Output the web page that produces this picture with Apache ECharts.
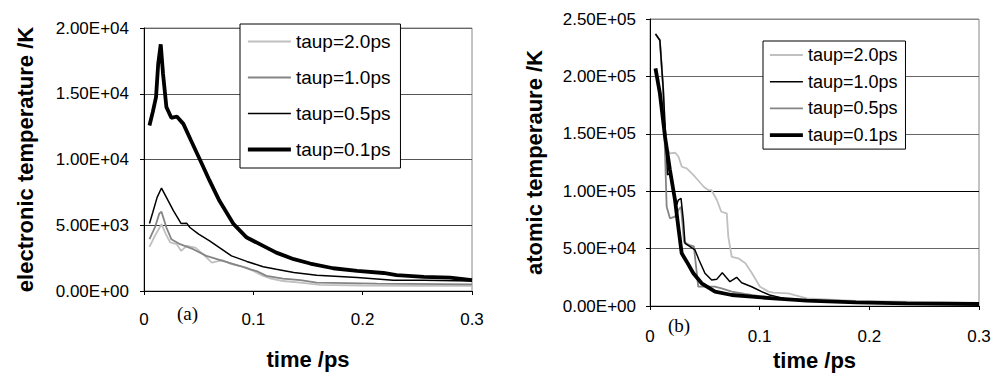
<!DOCTYPE html>
<html>
<head>
<meta charset="utf-8">
<script src="https://cdn.jsdelivr.net/npm/echarts@6/dist/echarts.min.js"></script>
<style>
html,body{margin:0;padding:0;background:#fff;}
#a{position:absolute;left:0;top:0;width:500px;height:374px;}
#b{position:absolute;left:500px;top:0;width:493px;height:374px;}
</style>
</head>
<body>
<div id="a"></div>
<div id="b"></div>
<script>
// ---- data: (a) electronic temperature ----
const xTicks = [0, 0.1, 0.2, 0.3];
const seriesNames = ['taup=2.0ps', 'taup=1.0ps', 'taup=0.5ps', 'taup=0.1ps'];

const elecT20_t = [0.005,0.010,0.016,0.020,0.024,0.030,0.034,0.039,0.047,0.054,0.062,0.072,0.080,0.094,0.109,0.115,0.127,0.143,0.161,0.200,0.250,0.300];
const elecT20_v = [3350,4200,5080,4320,3690,3560,3050,3430,3300,2800,2160,2340,2040,1780,1150,970,760,640,460,420,400,400];

const elecT10_t = [0.005,0.010,0.014,0.016,0.0205,0.025,0.033,0.045,0.057,0.072,0.088,0.097,0.103,0.112,0.127,0.143,0.158,0.213,0.300];
const elecT10_v = [3940,4830,5900,6020,4830,3940,3560,3180,2670,2290,1900,1650,1520,1150,940,820,640,560,510];

const elecT05_t = [0.005,0.008,0.012,0.016,0.0205,0.027,0.034,0.039,0.042,0.050,0.060,0.069,0.080,0.094,0.109,0.121,0.137,0.158,0.195,0.228,0.256,0.300];
const elecT05_v = [5130,5970,7120,7830,7120,6100,5130,5160,4830,4320,3810,3300,2670,2250,1850,1650,1400,1200,1020,820,815,760];

const elecT01_t = [0.005,0.008,0.011,0.013,0.0153,0.0174,0.0205,0.025,0.030,0.036,0.043,0.053,0.060,0.069,0.082,0.094,0.109,0.121,0.137,0.152,0.173,0.195,0.219,0.231,0.256,0.280,0.300];
const elecT01_v = [12580,13600,14740,17290,18760,16520,13980,13170,13270,12710,11440,9660,8390,6860,5080,4065,3430,2920,2420,2090,1730,1530,1370,1200,1070,1015,820];

// ---- data: (b) atomic temperature ----
const atomT20_t = [0.005,0.009,0.012,0.0143,0.018,0.023,0.026,0.029,0.0335,0.041,0.049,0.053,0.056,0.061,0.065,0.070,0.0714,0.0745,0.0805,0.087,0.093,0.1003,0.108,0.1124,0.126,0.143,0.188,0.234,0.300];
const atomT20_v = [237000,231500,190000,138800,133000,133500,130000,121300,119900,112600,103900,101000,101000,92300,82100,80700,60400,42900,41500,37200,28500,16800,12500,11600,11000,6700,4350,3750,2500];

const atomT10_t = [0.005,0.009,0.012,0.0143,0.016,0.018,0.0243,0.0258,0.0283,0.0304,0.0319,0.0365,0.041,0.0447,0.0501,0.0562,0.0608,0.0659,0.0729,0.079,0.0836,0.0927,0.1018,0.109,0.125,0.150,0.200,0.300];
const atomT10_v = [237000,231500,190000,147500,114100,115600,88000,92300,93800,74900,54600,51700,48800,40100,28500,22600,23200,29000,21200,25000,20300,16800,12500,9580,6000,4500,3000,2000];

const atomT05_t = [0.005,0.009,0.012,0.0137,0.0152,0.0182,0.0228,0.0258,0.0283,0.031,0.036,0.040,0.044,0.050,0.059,0.0653,0.0745,0.0866,0.100,0.120,0.150,0.200,0.300];
const atomT05_v = [237000,231500,190000,133000,86500,76400,77800,83600,86500,56000,53000,52000,16800,16800,16800,15400,12500,10500,8500,6500,4500,3000,2000];

const atomT01_t = [0.005,0.009,0.0137,0.0182,0.0228,0.0258,0.0289,0.0335,0.0395,0.0471,0.0593,0.0745,0.0927,0.1124,0.143,0.188,0.234,0.300];
const atomT01_v = [207000,185300,147500,118500,92300,69100,45900,38600,28500,19800,12500,9580,8100,6700,4600,3200,2350,1740];

// ---- helpers ----
const pairs = (t, v) => t.map((x, i) => [x, v[i]]);
const fmtE = v => {
  if (v === 0) return '0.00E+00';
  let [m, e] = v.toExponential(2).split('e');
  const s = e[0] === '-' ? '-' : '+';
  e = e.replace(/[+-]/, '');
  return m + 'E' + s + e.padStart(2, '0');
};
const fmtX = v => (v === 0 ? '0' : String(+v.toFixed(1)));
const FONT = "'Liberation Sans', Arial, sans-serif";
const LIGHT = '#c0c0c0', MID = '#858585', BLACK = '#000';
const THIN = 1.5, GREYW = 1.8, THICK = 3.8;

function xAxisCfg(gap, labelMargin) {
  return {
    type: 'value', min: xTicks[0], max: xTicks[xTicks.length - 1], interval: 0.1,
    name: 'time /ps', nameLocation: 'middle', nameGap: gap,
    nameTextStyle: { fontFamily: FONT, fontWeight: 'bold', fontSize: 22, color: '#000' },
    axisLine: { lineStyle: { color: '#000', width: 1 } },
    axisTick: { show: true, length: 4, lineStyle: { color: '#000' } },
    axisLabel: { formatter: fmtX, fontFamily: FONT, fontSize: 17, color: '#000', margin: labelMargin },
    splitLine: { show: false }
  };
}
function yAxisCfg(name, max, interval, gap, gridColors, labelMargin) {
  return {
    type: 'value', min: 0, max: max, interval: interval,
    name: name, nameLocation: 'middle', nameGap: gap,
    nameTextStyle: { fontFamily: FONT, fontWeight: 'bold', fontSize: 22, color: '#000' },
    axisLine: { show: true, lineStyle: { color: '#000', width: 1 } },
    axisTick: { show: true, length: 4, lineStyle: { color: '#000' } },
    axisLabel: { formatter: fmtE, fontFamily: FONT, fontSize: 17, color: '#000', margin: labelMargin },
    splitLine: { show: true, lineStyle: { color: gridColors, width: 1 } }
  };
}
function line(name, data, color, width, z) {
  return { name: name, type: 'line', data: data, symbol: 'none', showSymbol: false,
    lineStyle: { color: color, width: width }, itemStyle: { color: color }, z: z, silent: true };
}
function legendCfg(left, top, itemWidth, itemGap, padding, fontSize, colors, widths) {
  return {
    orient: 'vertical', left: left, top: top,
    data: seriesNames.map((n, i) => ({ name: n, lineStyle: { color: colors[i], width: widths[i] } })),
    itemWidth: itemWidth, itemHeight: 18, itemGap: itemGap, padding: padding,
    backgroundColor: '#fff', borderColor: '#000', borderWidth: 1, borderRadius: 0,
    itemStyle: { opacity: 0 },
    textStyle: { fontFamily: FONT, fontSize: fontSize, color: '#000', lineHeight: 18 },
    selectedMode: false
  };
}

// ---- chart (a) ----
const colorsA = [LIGHT, MID, BLACK, BLACK], widthsA = [GREYW, GREYW, THIN, THICK];
const chartA = echarts.init(document.getElementById('a'), null, { renderer: 'svg' });
chartA.setOption({
  animation: false,
  backgroundColor: '#fff',
  grid: { left: 144, right: 28, top: 28, bottom: 83, show: true, borderColor: '#888', borderWidth: 1,
    containLabel: false, outerBoundsMode: 'none' },
  xAxis: xAxisCfg(57, 20),
  yAxis: yAxisCfg('electronic temperature /K', 20000, 5000, 108, ['#555', '#333', '#555', '#555', '#666'], 15),
  legend: legendCfg(240, 24, 43, 17, [8, 10, 9, 6], 19, colorsA, widthsA),
  graphic: [{ type: 'text', left: 177, top: 304,
    style: { text: '(a)', font: "19px 'Liberation Serif', 'Times New Roman', serif", fill: '#000' } }],
  series: [
    line(seriesNames[0], pairs(elecT20_t, elecT20_v), colorsA[0], widthsA[0], 2),
    line(seriesNames[1], pairs(elecT10_t, elecT10_v), colorsA[1], widthsA[1], 3),
    line(seriesNames[2], pairs(elecT05_t, elecT05_v), colorsA[2], widthsA[2], 4),
    line(seriesNames[3], pairs(elecT01_t, elecT01_v), colorsA[3], widthsA[3], 5)
  ]
});

// ---- chart (b) ----
const colorsB = [LIGHT, BLACK, MID, BLACK], widthsB = [GREYW, THIN, GREYW, THICK];
const chartB = echarts.init(document.getElementById('b'), null, { renderer: 'svg' });
chartB.setOption({
  animation: false,
  backgroundColor: '#fff',
  grid: { left: 150, right: 14, top: 19, bottom: 68, show: true, borderColor: '#888', borderWidth: 1,
    containLabel: false, outerBoundsMode: 'none' },
  xAxis: xAxisCfg(42, 22),
  yAxis: yAxisCfg('atomic temperaure /K', 250000, 50000, 105, ['#666', '#666', '#000', '#666', '#666', '#888'], 14),
  legend: legendCfg(263, 41, 33, 8.7, [5, 8, 5, 5], 18, colorsB, widthsB),
  graphic: [{ type: 'text', left: 168, top: 316,
    style: { text: '(b)', font: "19px 'Liberation Serif', 'Times New Roman', serif", fill: '#000' } }],
  series: [
    line(seriesNames[0], pairs(atomT20_t, atomT20_v), colorsB[0], widthsB[0], 2),
    line(seriesNames[1], pairs(atomT10_t, atomT10_v), colorsB[1], widthsB[1], 4),
    line(seriesNames[2], pairs(atomT05_t, atomT05_v), colorsB[2], widthsB[2], 3),
    line(seriesNames[3], pairs(atomT01_t, atomT01_v), colorsB[3], widthsB[3], 5)
  ]
});
</script>
</body>
</html>
